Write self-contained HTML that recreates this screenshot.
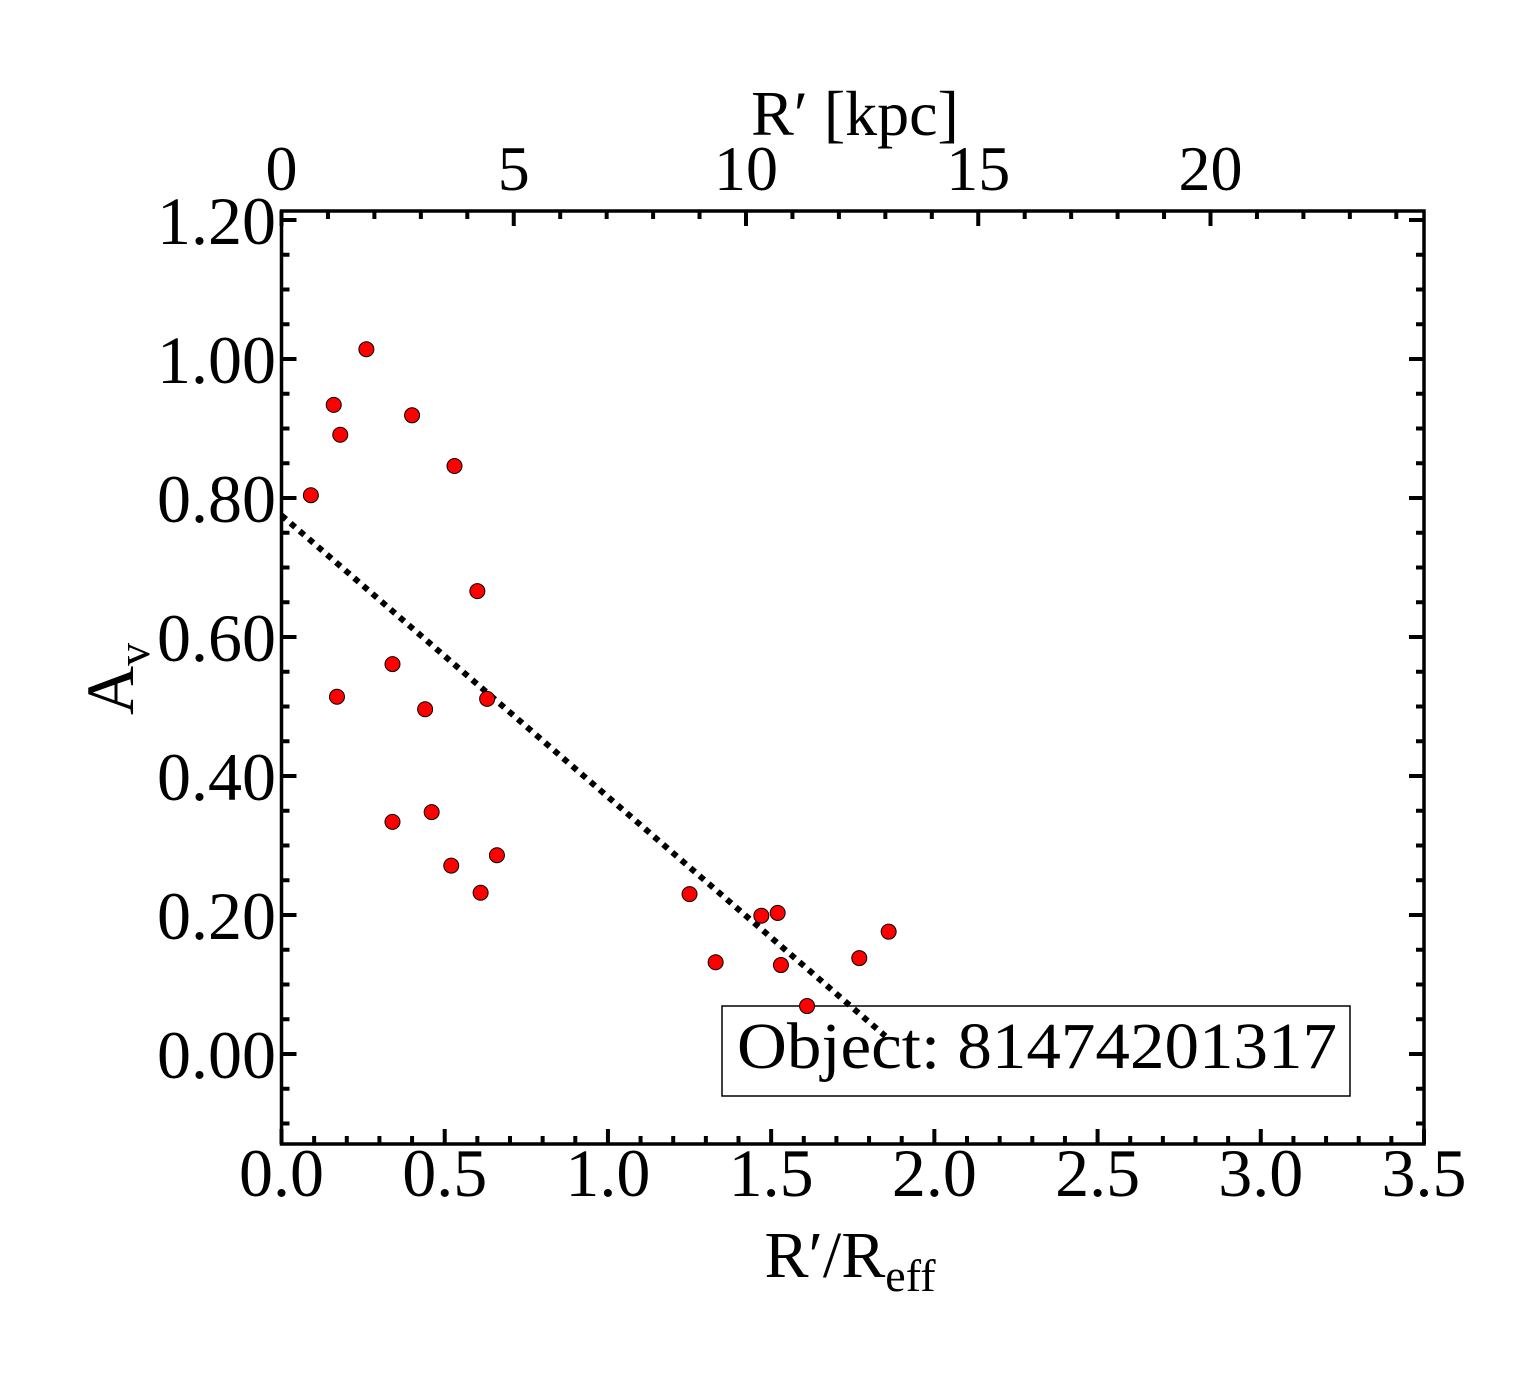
<!DOCTYPE html>
<html><head><meta charset="utf-8"><style>
html,body{margin:0;padding:0;background:#fff;}
svg{display:block;font-family:"Liberation Serif",serif;}
</style></head><body>
<svg id="chart" width="1540" height="1375" viewBox="0 0 1540 1375" xmlns="http://www.w3.org/2000/svg">
<rect width="1540" height="1375" fill="#fff"/>
<g id="ticks"></g>
<g id="labels"></g>
<g id="legendbox">
<rect x="722" y="1006" width="628" height="90" fill="#fff" stroke="#000" stroke-width="1.5"/>
<text x="737" y="1068" font-size="66" textLength="600" lengthAdjust="spacingAndGlyphs">Object: 81474201317</text>
</g>
<g id="fit"></g>
<g id="pts"></g>
<rect x="281.5" y="211" width="1142.5" height="933" fill="none" stroke="#000" stroke-width="3.5"/>
<text x="855" y="135" font-size="64" text-anchor="middle">R′ [kpc]</text>
<text x="850" y="1277" font-size="66" text-anchor="middle">R′/R<tspan font-size="46" dy="14">eff</tspan></text>
<text transform="translate(133,715) rotate(-90)" font-size="68">A<tspan font-size="46" dy="16">v</tspan></text>
</svg>
<script>
var xVals=[0.09,0.16,0.18,0.26,0.40,0.53,0.60,0.63,0.34,0.17,0.44,0.34,0.46,0.52,0.61,0.66,1.25,1.33,1.47,1.52,1.53,1.61,1.77,1.86];
var yVals=[0.804,0.934,0.891,1.014,0.919,0.846,0.666,0.511,0.561,0.514,0.496,0.334,0.348,0.271,0.232,0.286,0.230,0.132,0.199,0.203,0.128,0.069,0.138,0.176];
var xTicks=["0.0","0.5","1.0","1.5","2.0","2.5","3.0","3.5"];
var yTicks=["0.00","0.20","0.40","0.60","0.80","1.00","1.20"];
var kpcTicks=["0","5","10","15","20"];
var fitIntercept=0.775, fitSlope=-0.405, fitXEnd=1.85;
var NS="http://www.w3.org/2000/svg";
var L=281.5,R=1424,T=211,B=1144;
function sx(v){return L+v*(R-L)/3.5;}
function sy(v){return 1054-v*695;}
function sk(v){return L+v*46.45;}
function mk(tag,attrs,parent){var e=document.createElementNS(NS,tag);for(var k in attrs)e.setAttribute(k,attrs[k]);parent.appendChild(e);return e;}
var tk=document.getElementById('ticks'),lb=document.getElementById('labels');
function ln(a){a.stroke='#000';a['stroke-width']=4;return a;}
for(var i=0;i<=35;i++){var x=sx(i/10),len=i%5===0?15:8;
 mk('line',ln({x1:x,y1:B,x2:x,y2:B-len}),tk);}
for(var i=0;i<=24;i++){var x=sk(i),len=i%5===0?15:8;
 mk('line',ln({x1:x,y1:T,x2:x,y2:T+len}),tk);}
for(var i=-2;i<=24;i++){var y=sy(i*0.05);if(y<T||y>B)continue;var len=i%4===0?15:8;
 mk('line',ln({x1:L,y1:y,x2:L+len,y2:y}),tk);
 mk('line',ln({x1:R,y1:y,x2:R-len,y2:y}),tk);}
xTicks.forEach(function(t,i){var e=mk('text',{x:sx(i*0.5),y:1196,'font-size':68,'text-anchor':'middle'},lb);e.textContent=t;
 
 });
yTicks.forEach(function(t,i){var e=mk('text',{x:276,y:sy(i*0.2)+24,'font-size':68,'text-anchor':'end'},lb);e.textContent=t;
 
 });
kpcTicks.forEach(function(t,i){var e=mk('text',{x:sk(i*5),y:190,'font-size':64,'text-anchor':'middle'},lb);e.textContent=t;
 
 });
var fl=mk('line',{x1:sx(0),y1:sy(fitIntercept),x2:sx(fitXEnd),y2:sy(fitIntercept+fitSlope*fitXEnd),stroke:'#000','stroke-width':6,'stroke-dasharray':'6 6'},document.getElementById('fit'));


var pg=document.getElementById('pts');
xVals.forEach(function(x,i){var c=mk('circle',{cx:sx(x),cy:sy(yVals[i]),r:7.5,fill:'#f00',stroke:'#000','stroke-width':1},pg);
 
 });
</script>
</body></html>
